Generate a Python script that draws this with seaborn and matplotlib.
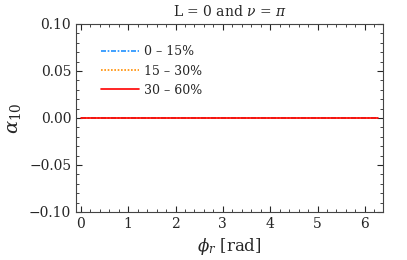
import numpy as np
import pandas as pd
import matplotlib
matplotlib.use("Agg")
import matplotlib.pyplot as plt
import seaborn as sns

# values: all three centrality classes sit on zero
phi_r = [0.0, 0.785, 1.571, 2.356, 3.142, 3.927, 4.712, 5.498, 6.283]
alpha_0_15 = [0.0, 0.0, 0.0, 0.0, 0.0, 0.0, 0.0, 0.0, 0.0]
alpha_15_30 = [0.0, 0.0, 0.0, 0.0, 0.0, 0.0, 0.0, 0.0, 0.0]
alpha_30_60 = [0.0, 0.0, 0.0, 0.0, 0.0, 0.0, 0.0, 0.0, 0.0]
labels = ['0 – 15%', '15 – 30%', '30 – 60%']

sns.set_style("ticks")
plt.rcParams['font.family'] = ['DejaVu Serif']
plt.rcParams['mathtext.fontset'] = 'dejavuserif'

df = pd.concat([
    pd.DataFrame({'phi': phi_r, 'alpha': alpha_0_15, 'cent': labels[0]}),
    pd.DataFrame({'phi': phi_r, 'alpha': alpha_15_30, 'cent': labels[1]}),
    pd.DataFrame({'phi': phi_r, 'alpha': alpha_30_60, 'cent': labels[2]}),
])

fig, ax = plt.subplots(figsize=(4.07, 2.6), dpi=100)
palette = {labels[0]: '#1e90ff', labels[1]: '#ff8c00', labels[2]: '#ff0000'}
dashes = {labels[0]: (3, 1, 1, 1), labels[1]: (1, 1), labels[2]: ''}
sns.lineplot(data=df, x='phi', y='alpha', hue='cent', style='cent',
             palette=palette, dashes=dashes, linewidth=1.2, ax=ax)

ax.set_xlim(-0.1, 2 * np.pi + 0.1)
ax.set_ylim(-0.1, 0.1)
ax.set_yticks([-0.1, -0.05, 0.0, 0.05, 0.1])
ax.set_xticks([0, 1, 2, 3, 4, 5, 6])
ax.minorticks_on()
ax.tick_params(which='both', direction='in', top=True, right=True)
ax.tick_params(which='major', length=4, labelsize=10)
ax.tick_params(which='minor', length=2)
for s in ax.spines.values():
    s.set_color('#444444')

ax.set_title(r'L = 0 and $\nu$ = $\pi$', fontsize=10)
ax.set_xlabel(r'$\phi_r$ [rad]', fontsize=12)
ax.set_ylabel(r'$\alpha_{10}$', fontsize=14)

ax.legend(frameon=False, fontsize=9, loc='upper left',
          bbox_to_anchor=(0.045, 0.946), labelspacing=0.5, handlelength=3.0,
          handletextpad=0.45)

fig.subplots_adjust(left=0.187, right=0.941, top=0.908, bottom=0.185)
fig.savefig('out.png', dpi=100)
